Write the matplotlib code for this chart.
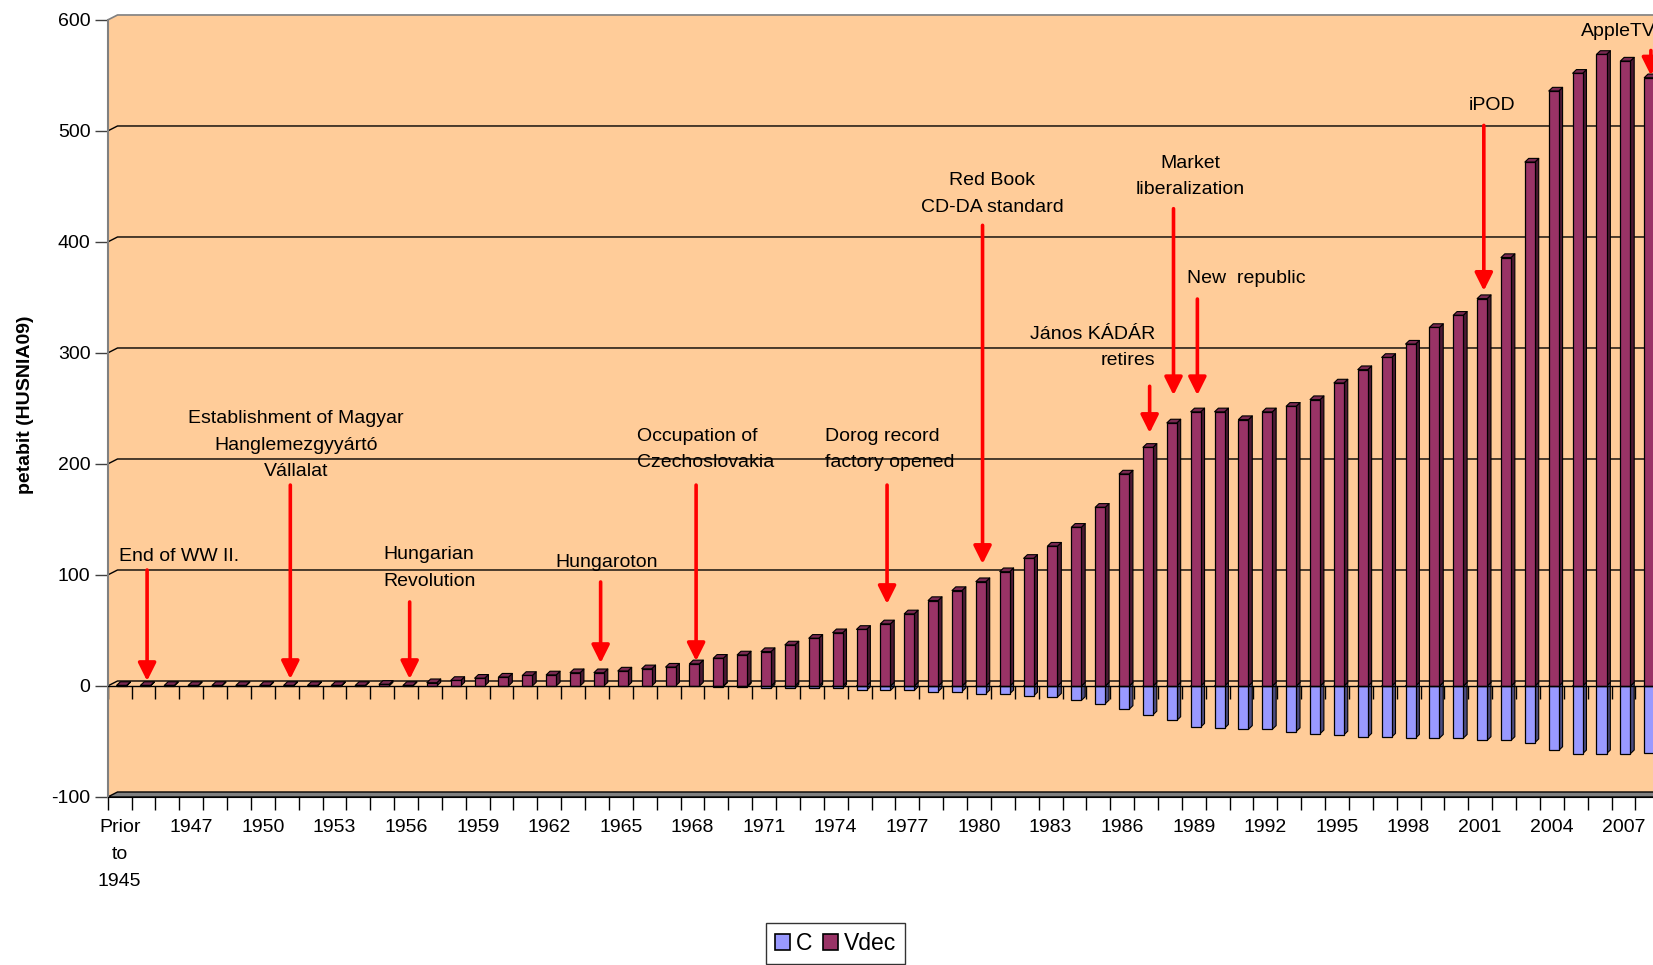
import matplotlib
matplotlib.use("Agg")
import matplotlib.pyplot as plt
from matplotlib.collections import PolyCollection
from matplotlib.patches import Patch

plt.rcParams['font.family'] = ['Liberation Sans', 'DejaVu Sans']
plt.rcParams['axes.unicode_minus'] = False

# data
years = ["Prior\nto\n1945"] + [str(y) for y in range(1945, 2009)]

vdec = [0.5, 0.5, 0.5, 0.5, 0.5, 0.5, 0.5, 0.5, 0.5, 0.5, 0.5,        # Prior..1954
        1.5, 0.5, 3, 5, 7, 8, 9.5, 10, 12, 12,                         # 1955..1964
        13.5, 15.5, 17, 20, 25, 28, 31, 37, 43, 48,                    # 1965..1974
        51, 56, 65, 77, 86, 94, 103, 115, 126, 143,                    # 1975..1984
        161, 191, 215, 237, 247, 247, 240, 247, 252, 258,              # 1985..1994
        273, 285, 296, 308, 323, 334, 349, 386, 472, 536,              # 1995..2004
        552, 569, 563, 548]                                            # 2005..2008

c = [0, 0, 0, 0, 0, 0, 0, 0, 0, 0, 0,                                  # Prior..1954
     0, 0, 0, 0, 0, 0, 0, 0, 0, 0,                                     # 1955..1964
     0, 0, 0, 0, -0.5, -1, -2, -2, -2, -2,                             # 1965..1974
     -4, -4, -4, -5, -5, -7, -7, -9, -10, -13,                         # 1975..1984
     -16, -21, -26, -31, -37, -38, -39, -39, -41, -43,                 # 1985..1994
     -44, -46, -46, -47, -47, -47, -49, -49, -51, -58,                 # 1995..2004
     -61, -61, -61, -60]                                               # 2005..2008

# events: label, year, arrow start value, arrow tip value
ev_labels = ["End of WW II.", "Establishment of Magyar\nHanglemezgyyártó\nVállalat",
             "Hungarian\nRevolution", "Hungaroton", "Occupation of\nCzechoslovakia",
             "Dorog record\nfactory opened", "Red Book\nCD-DA standard",
             "János KÁDÁR\nretires", "Market\nliberalization", "New  republic",
             "iPOD", "AppleTV"]
ev_years = [1945, 1951, 1956, 1964, 1968, 1976, 1980, 1987, 1988, 1989, 2001, 2008]
ev_from = [104.5, 181, 75.7, 93.7, 181, 181, 415, 270, 430, 348.6, 505, 572.5]
ev_to = [4.5, 6.3, 6.3, 20.7, 22.5, 73.9, 110, 228, 262, 262, 356, 550]
# text placement (category position, value, alignment)
ev_text = [(2.49, 117, 'center'), (7.39, 217, 'center'), (11.03, 106, 'left'),
           (20.41, 111, 'center'), (21.67, 213, 'left'), (29.55, 213, 'left'),
           (36.55, 443, 'center'), (43.39, 305, 'right'), (44.84, 459, 'center'),
           (47.2, 367, 'center'), (57.48, 523, 'center'), (61.22, 590, 'left')]

col_v, col_v_side, col_v_top = '#993366', '#4C1933', '#7A2952'
col_c, col_c_side, col_c_top = '#9999FF', '#4C4C80', '#7A7ACC'
peach = '#FFCC99'

n = len(years)
xs = list(range(n))
xmax = n + 0.5
bw = 0.42          # front face width
off = 0.08         # front face shift
dx, dy = 0.16, 3.3     # bar depth
gx, gdy = 0.41, 4.5    # wall depth

fig = plt.figure(figsize=(16.53, 9.65), dpi=100)
ax = fig.add_axes([0.06516, 0.1741, (xmax + 0.5) * 23.87 / 1653, 0.8121])
ax.set_xlim(-0.5, xmax)
ax.set_ylim(-100, 606)
ax.set_facecolor('none')

# walls
ax.fill([-0.5, -0.5, -0.5 + gx, xmax, xmax], [-100, 600, 600 + gdy, 600 + gdy, -100],
        color=peach, zorder=0, lw=0)
ax.plot([-0.5, -0.5 + gx, xmax], [600, 600 + gdy, 600 + gdy], color='#808080', lw=1.2, zorder=1)
for g in range(0, 600, 100):
    ax.plot([-0.5, -0.5 + gx, xmax], [g, g + gdy, g + gdy], color='black', lw=1, zorder=1)
ax.fill([-0.5, -0.5 + gx, xmax, xmax], [-100, -100 + gdy, -100 + gdy, -100],
        facecolor='#808080', edgecolor='black', lw=1, zorder=1)

# ticks on the zero line
ax.vlines([i - 0.5 for i in range(n + 1)], -11.7, 0, color='black', lw=1, zorder=1.5)


def faces(x0, x1, yb, yt):
    side = [(x1, yb), (x1 + dx, yb + dy), (x1 + dx, yt + dy), (x1, yt)]
    top = [(x0, yt), (x0 + dx, yt + dy), (x1 + dx, yt + dy), (x1, yt)]
    return side, top


# C (negative) bars
cx = [x for x, v in zip(xs, c) if v < 0]
cv = [v for v in c if v < 0]
sides, tops = [], []
for x, v in zip(cx, cv):
    s, t = faces(x + off - bw / 2, x + off + bw / 2, v, 0)
    sides.append(s)
    tops.append(t)
ax.add_collection(PolyCollection(sides, facecolors=col_c_side, edgecolors='black', lw=0.8, zorder=2))
ax.add_collection(PolyCollection(tops, facecolors=col_c_top, edgecolors='black', lw=0.8, zorder=2))
ax.bar([x + off for x in cx], cv, width=bw, color=col_c, edgecolor='black', lw=0.9, zorder=2.1)

# Vdec (positive) bars
sides, tops = [], []
for x, v in zip(xs, vdec):
    s, t = faces(x + off - bw / 2, x + off + bw / 2, 0, v)
    sides.append(s)
    tops.append(t)
ax.add_collection(PolyCollection(sides, facecolors=col_v_side, edgecolors='black', lw=0.8, zorder=3))
ax.add_collection(PolyCollection(tops, facecolors=col_v_top, edgecolors='black', lw=0.8, zorder=3))
ax.bar([x + off for x in xs], vdec, width=bw, color=col_v, edgecolor='black', lw=0.9, zorder=3.1)

# front zero line
ax.plot([-0.5, xmax], [0, 0], color='black', lw=1, zorder=3.5)

# event arrows
for lab, yr, y0, y1, (tx, ty, ha) in zip(ev_labels, ev_years, ev_from, ev_to, ev_text):
    xi = years.index(str(yr)) + 0.15
    ax.annotate('', xy=(xi, y1), xytext=(xi, y0),
                arrowprops=dict(arrowstyle='-|>,head_length=0.9,head_width=0.45',
                                mutation_scale=12, color='#FF0000', lw=2.6,
                                shrinkA=0, shrinkB=0), zorder=5)
    ax.text(tx, ty, lab, ha=ha, va='center', multialignment=ha, fontsize=14,
            linespacing=1.75, zorder=6, clip_on=False)

# axes
for s in ['top', 'right']:
    ax.spines[s].set_visible(False)
ax.spines['left'].set_color('#808080')
ax.spines['left'].set_linewidth(1.5)
ax.spines['left'].set_bounds(-100, 600)
ax.spines['bottom'].set_color('black')
ax.set_yticks(range(-100, 601, 100))
ax.tick_params(axis='y', length=9.4, width=1, color='#404040', labelsize=14, pad=3)

ax.set_xticks(xs[::3])
ax.set_xticklabels(years[::3], linespacing=1.75)
ax.set_xticks([i - 0.5 for i in range(n + 1)], minor=True)
ax.tick_params(axis='x', which='major', length=0, labelsize=14, pad=16)
ax.tick_params(axis='x', which='minor', length=9.4, width=1, color='black')

fig.text(26 / 1653, 1 - 405 / 965, 'petabit (HUSNIA09)', rotation=90, ha='center', va='center',
         fontsize=14, fontweight='bold')

handles = [Patch(facecolor=col_c, edgecolor='black', lw=1.2, label='C'),
           Patch(facecolor=col_v, edgecolor='black', lw=1.2, label='Vdec')]
leg = fig.legend(handles=handles, loc='upper center', bbox_to_anchor=(0.5055, 1 - 923 / 965),
                 ncol=2, fontsize=16.5, frameon=True, fancybox=False, shadow=False,
                 handlelength=0.65, handleheight=0.65, handletextpad=0.25, columnspacing=0.5,
                 borderpad=0.4, borderaxespad=0)
leg.get_frame().set_edgecolor('black')
leg.get_frame().set_linewidth(1)

fig.savefig('out.png', dpi=100)
